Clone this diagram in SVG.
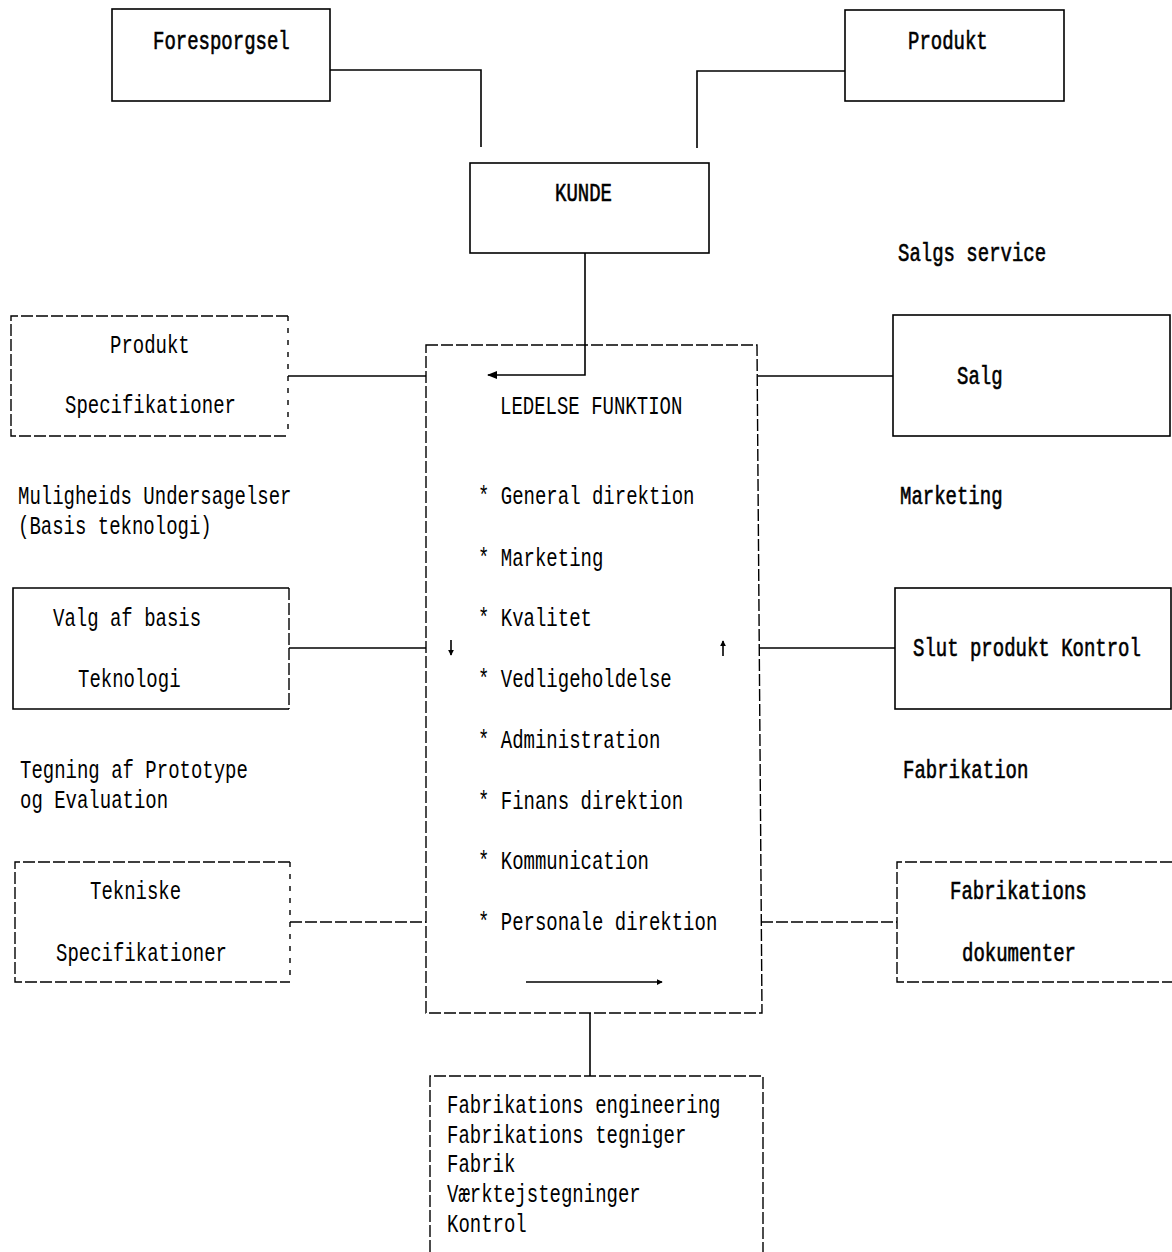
<svg xmlns="http://www.w3.org/2000/svg" width="1172" height="1252" viewBox="0 0 1172 1252">
<defs>
<style>
.box{fill:none;stroke:#000;stroke-width:1.6}
.dash{fill:none;stroke:#000;stroke-width:1.4;stroke-dasharray:12 3}
.dot{fill:none;stroke:#000;stroke-width:1.4;stroke-dasharray:5 7}
.ln{fill:none;stroke:#000;stroke-width:1.6}
text{font-family:"Liberation Mono","DejaVu Sans Mono",monospace;font-size:19px;fill:#000}
.b{stroke:#000;stroke-width:0.45}
</style>
<marker id="ah" viewBox="0 0 10 8" refX="9" refY="4" markerWidth="10" markerHeight="8" markerUnits="userSpaceOnUse" orient="auto">
<path d="M0,0 L10,4 L0,8 Z" fill="#000"/>
</marker>
<marker id="ahs" viewBox="0 0 8 8" refX="7" refY="4" markerWidth="6" markerHeight="6" markerUnits="userSpaceOnUse" orient="auto">
<path d="M0,0 L8,4 L0,8 Z" fill="#000"/>
</marker>
</defs>
<rect width="1172" height="1252" fill="#fff"/>

<g id="connectors">
<path class="ln" d="M330,70 H481 V147"/>
<path class="ln" d="M845,71 H697 V148"/>
<path class="ln" d="M585,253 V375 H488" marker-end="url(#ah)"/>
<path class="ln" d="M288,376 H426"/>
<path class="ln" d="M289,648 H426"/>
<path class="dash" d="M290,922 H426"/>
<path class="ln" d="M758,376 H893"/>
<path class="ln" d="M759,648 H895"/>
<path class="dash" d="M761,922 H897"/>
<path class="ln" d="M590,1013 V1076"/>
<path class="ln" d="M451,640 V655" marker-end="url(#ahs)"/>
<path class="ln" d="M723,656 V641" marker-end="url(#ahs)"/>
<path class="ln" d="M526,982 H662" marker-end="url(#ahs)"/>
</g>

<g id="foresporgsel">
<rect class="box" x="112" y="9" width="218" height="92"/>
<text class="b" transform="matrix(1,0,0,1.32,153,49)">Foresporgsel</text>
</g>

<g id="produkt">
<rect class="box" x="845" y="10" width="219" height="91"/>
<text class="b" transform="matrix(1,0,0,1.32,908,49)">Produkt</text>
</g>

<g id="kunde">
<rect class="box" x="470" y="163" width="239" height="90"/>
<text class="b" transform="matrix(1,0,0,1.32,555,201)">KUNDE</text>
</g>

<g id="salgs-service">
<text class="b" transform="matrix(1,0,0,1.32,898,261)">Salgs service</text>
</g>

<g id="ledelse">
<path class="dash" d="M426,345 H757 L762,1013 H426 Z"/>
<text transform="matrix(1,0,0,1.32,500,414)">LEDELSE FUNKTION</text>
<text transform="matrix(1,0,0,1.32,478,504)">* General direktion</text>
<text transform="matrix(1,0,0,1.32,478,566)">* Marketing</text>
<text transform="matrix(1,0,0,1.32,478,626)">* Kvalitet</text>
<text transform="matrix(1,0,0,1.32,478,687)">* Vedligeholdelse</text>
<text transform="matrix(1,0,0,1.32,478,748)">* Administration</text>
<text transform="matrix(1,0,0,1.32,478,809)">* Finans direktion</text>
<text transform="matrix(1,0,0,1.32,478,869)">* Kommunication</text>
<text transform="matrix(1,0,0,1.32,478,930)">* Personale direktion</text>
</g>

<g id="produkt-spec">
<path class="dash" d="M288,316 H11 V436 H288"/>
<path class="dot" d="M288,316 V436"/>
<text transform="matrix(1,0,0,1.32,110,353)">Produkt</text>
<text transform="matrix(1,0,0,1.32,65,413)">Specifikationer</text>
</g>

<g id="muligheids">
<text transform="matrix(1,0,0,1.32,18,504)">Muligheids Undersagelser</text>
<text transform="matrix(1,0,0,1.32,18,534)">(Basis teknologi)</text>
</g>

<g id="valg">
<path class="ln" d="M289,588 H13 V709 H289"/>
<path class="dash" d="M289,588 V709"/>
<text transform="matrix(1,0,0,1.32,53,626)">Valg af basis</text>
<text transform="matrix(1,0,0,1.32,78,687)">Teknologi</text>
</g>

<g id="tegning">
<text transform="matrix(1,0,0,1.32,20,778)">Tegning af Prototype</text>
<text transform="matrix(1,0,0,1.32,20,808)">og Evaluation</text>
</g>

<g id="tekniske">
<path class="dash" d="M290,862 H15 V982 H290"/>
<path class="dot" d="M290,862 V982"/>
<text transform="matrix(1,0,0,1.32,90,899)">Tekniske</text>
<text transform="matrix(1,0,0,1.32,56,961)">Specifikationer</text>
</g>

<g id="salg">
<rect class="box" x="893" y="315" width="277" height="121"/>
<text class="b" transform="matrix(1,0,0,1.32,957,384)">Salg</text>
</g>

<g id="marketing">
<text class="b" transform="matrix(1,0,0,1.32,900,504)">Marketing</text>
</g>

<g id="slut-produkt">
<rect class="box" x="895" y="588" width="276" height="121"/>
<text class="b" transform="matrix(1,0,0,1.32,913,656)">Slut produkt Kontrol</text>
</g>

<g id="fabrikation">
<text class="b" transform="matrix(1,0,0,1.32,903,778)">Fabrikation</text>
</g>

<g id="fabrikations-dok">
<path class="dash" d="M1172,862 H897 V982 H1172"/>
<text class="b" transform="matrix(1,0,0,1.32,950,899)">Fabrikations</text>
<text class="b" transform="matrix(1,0,0,1.32,962,961)">dokumenter</text>
</g>

<g id="fabrikations-eng">
<path class="dash" d="M430,1252 V1076 H763 V1252"/>
<text transform="matrix(1,0,0,1.32,447,1113)">Fabrikations engineering</text>
<text transform="matrix(1,0,0,1.32,447,1143)">Fabrikations tegniger</text>
<text transform="matrix(1,0,0,1.32,447,1172)">Fabrik</text>
<text transform="matrix(1,0,0,1.32,447,1202)">Værktejstegninger</text>
<text transform="matrix(1,0,0,1.32,447,1232)">Kontrol</text>
</g>
</svg>
